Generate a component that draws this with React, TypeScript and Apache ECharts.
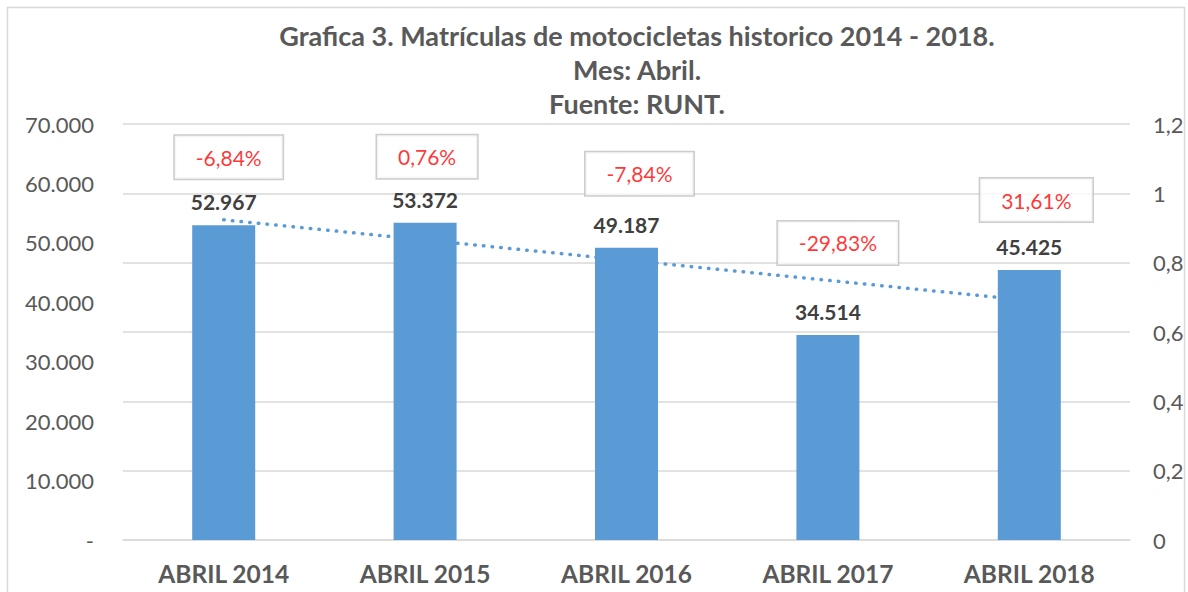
import React, { useEffect, useRef } from "react";
import * as echarts from "echarts";

const categories = ["ABRIL 2014", "ABRIL 2015", "ABRIL 2016", "ABRIL 2017", "ABRIL 2018"];
const registrations = [52967, 53372, 49187, 34514, 45425];
const changePct = [-6.84, 0.76, -7.84, -29.83, 31.61];
// linear trendline end points
const trendValues = [53881, 40305];
const leftTicks = { min: 0, max: 70000, interval: 10000 };
const rightTicks = { min: 0, max: 1.2, interval: 0.2 };
const titleLines = [
  "Grafica 3. Matrículas de motocicletas historico 2014 - 2018.",
  "Mes: Abril.",
  "Fuente: RUNT.",
];

// label box placement relative to each bar top (layout only)
const pctBoxShift: [number, number][] = [
  [5, -68],
  [2, -66],
  [13, -74],
  [10, -92],
  [7, -70],
];

const FONT = "Lato, 'Open Sans', 'DejaVu Sans', sans-serif";

const thousands = (v: number) =>
  String(Math.round(v)).replace(/\B(?=(\d{3})+(?!\d))/g, ".");

export default function App() {
  const ref = useRef<HTMLDivElement>(null);

  useEffect(() => {
    if (!ref.current) return;
    const chart = echarts.init(ref.current, undefined, { renderer: "svg" });
    chart.setOption({
      animation: false,
      backgroundColor: "#ffffff",
      textStyle: { fontFamily: FONT },
      title: {
        text: titleLines.join("\n"),
        left: 632,
        top: 13,
        textAlign: "center",
        textStyle: {
          fontFamily: FONT,
          fontSize: 27,
          fontWeight: "bold",
          color: "#595959",
          lineHeight: 34,
        },
      },
      graphic: [
        {
          type: "rect",
          shape: { x: 7.5, y: 7.5, width: 1177, height: 640 },
          style: { fill: "none", stroke: "#D9D9D9", lineWidth: 1.5 },
          silent: true,
          z: -10,
        },
      ],
      grid: {
        left: 123,
        right: 58,
        top: 124,
        bottom: 52,
        containLabel: false,
        outerBoundsMode: "none",
      },
      xAxis: {
        type: "category",
        data: categories,
        axisTick: { show: false },
        axisLine: { show: true, lineStyle: { color: "#D9D9D9", width: 1.5 } },
        axisLabel: {
          color: "#595959",
          fontFamily: FONT,
          fontSize: 24.5,
          fontWeight: "bold",
          margin: 21,
        },
      },
      yAxis: [
        {
          type: "value",
          min: leftTicks.min,
          max: leftTicks.max,
          interval: leftTicks.interval,
          position: "left",
          splitLine: { show: false },
          axisLine: { show: false },
          axisTick: { show: false },
          axisLabel: {
            color: "#595959",
            fontFamily: FONT,
            fontSize: 22,
            margin: 29,
            formatter: (v: number) => (v === 0 ? "-" : thousands(v)),
          },
        },
        {
          type: "value",
          min: rightTicks.min,
          max: rightTicks.max,
          interval: rightTicks.interval,
          position: "right",
          splitLine: { show: true, lineStyle: { color: "#D9D9D9", width: 1.5 } },
          axisLine: { show: false },
          axisTick: { show: false },
          axisLabel: {
            color: "#595959",
            fontFamily: FONT,
            fontSize: 22,
            margin: 23,
            formatter: (v: number) => String(Math.round(v * 10) / 10).replace(".", ","),
          },
        },
      ],
      series: [
        {
          type: "line",
          name: "Tendencia",
          yAxisIndex: 0,
          data: [
            [0, trendValues[0]],
            [categories.length - 1, trendValues[1]],
          ],
          symbol: "none",
          z: 1,
          lineStyle: {
            color: "#5B9BD5",
            width: 3.5,
            type: [0.5, 8.2],
            cap: "round",
          },
          silent: true,
        },
        {
          type: "bar",
          name: "Matrículas",
          yAxisIndex: 0,
          data: registrations,
          barWidth: 63,
          z: 2,
          itemStyle: { color: "#5B9BD5" },
          label: {
            show: true,
            position: "top",
            distance: 13,
            color: "#404040",
            fontFamily: FONT,
            fontSize: 21,
            fontWeight: "bold",
            formatter: (p: any) => thousands(p.value),
          },
        },
        {
          type: "scatter",
          name: "Variación",
          yAxisIndex: 0,
          symbolSize: 1,
          z: 5,
          itemStyle: { color: "rgba(0,0,0,0)" },
          data: registrations.map((v, i) => ({
            value: v,
            label: { offset: pctBoxShift[i] },
          })),
          label: {
            show: true,
            position: "inside",
            color: "#FF0000",
            fontFamily: FONT,
            fontSize: 21,
            backgroundColor: "#ffffff",
            borderColor: "#BFBFBF",
            borderWidth: 1.5,
            padding: [11, 21, 11, 21],
            formatter: (p: any) =>
              changePct[p.dataIndex].toFixed(2).replace(".", ",") + "%",
          },
          silent: true,
        },
      ],
    });
    return () => chart.dispose();
  }, []);

  return (
    <div
      ref={ref}
      style={{ position: "fixed", left: 0, top: 0, width: 1188, height: 592 }}
    />
  );
}
